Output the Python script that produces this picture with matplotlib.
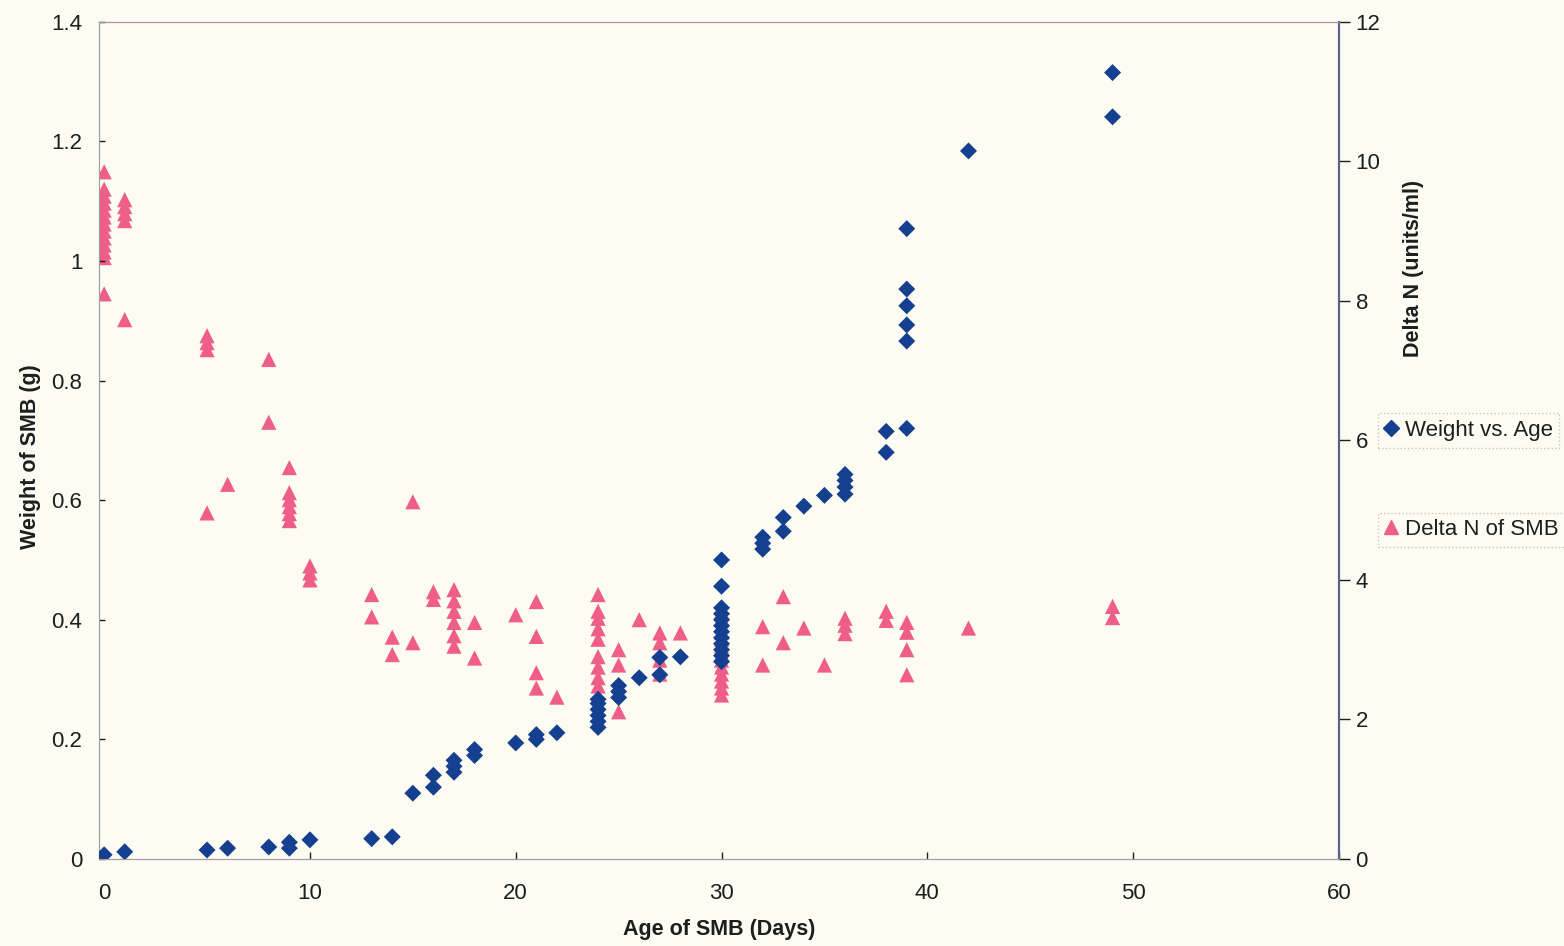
import matplotlib
matplotlib.use("Agg")
import matplotlib.pyplot as plt
from matplotlib.lines import Line2D

# ---------------- data ----------------
weight_age = [0, 1, 5, 6, 8, 9, 9, 10, 13, 14, 15, 16, 16, 17, 17, 17, 18, 18, 20,
              21, 21, 22, 24, 24, 24, 24, 24, 24, 25, 25, 25, 26, 27, 27, 28,
              30, 30, 30, 30, 30, 30, 30, 30, 30, 30, 30, 30,
              32, 32, 32, 33, 33, 34, 35, 36, 36, 36, 36, 38, 38,
              39, 39, 39, 39, 39, 39, 42, 49, 49]
weight_g = [0.007, 0.012, 0.015, 0.018, 0.02, 0.018, 0.028, 0.032, 0.034, 0.037, 0.11,
            0.12, 0.14, 0.145, 0.155, 0.165, 0.173, 0.183, 0.194,
            0.2, 0.208, 0.211, 0.22, 0.23, 0.24, 0.25, 0.26, 0.267, 0.27, 0.28, 0.29,
            0.303, 0.308, 0.337, 0.338,
            0.33, 0.34, 0.35, 0.36, 0.37, 0.38, 0.39, 0.40, 0.41, 0.42, 0.456, 0.50,
            0.518, 0.528, 0.538, 0.548, 0.571, 0.59, 0.608, 0.61, 0.622, 0.633, 0.643,
            0.68, 0.715, 0.72, 0.866, 0.893, 0.925, 0.953, 1.054, 1.184, 1.241, 1.315]

deltan_age = [0] * 13 + [1] * 5 + [5] * 4 + [6] + [8] * 2 + [9] * 6 + [10] * 3 + \
             [13] * 2 + [14] * 2 + [15] * 2 + [16] * 2 + [17] * 6 + [18] * 2 + [20] + \
             [21] * 4 + [22] + [24] * 9 + [25] * 3 + [26] + [27] * 4 + [28] + \
             [30] * 13 + [32] * 2 + [33] * 2 + [34] + [35] + [36] * 3 + [38] * 2 + \
             [39] * 4 + [42] + [49] * 2
deltan = [9.85, 9.6, 9.5, 9.4, 9.3, 9.2, 9.1, 9.0, 8.9, 8.8, 8.7, 8.62, 8.1,
          9.45, 9.35, 9.25, 9.15, 7.73,
          7.5, 7.4, 7.3, 4.96,
          5.37,
          7.16, 6.26,
          5.61, 5.25, 5.15, 5.05, 4.95, 4.85,
          4.2, 4.1, 4.0,
          3.79, 3.47,
          3.18, 2.93,
          5.12, 3.1,
          3.83, 3.72,
          3.86, 3.7, 3.55, 3.39, 3.2, 3.05,
          3.39, 2.88,
          3.5,
          3.69, 3.19, 2.67, 2.45,
          2.32,
          3.79, 3.55, 3.45, 3.3, 3.15, 2.9, 2.75, 2.6, 2.48,
          3.0, 2.78, 2.11,
          3.43,
          3.24, 3.1, 2.85, 2.65,
          3.24,
          3.55, 3.45, 3.35, 3.25, 3.15, 3.05, 2.95, 2.85, 2.75, 2.65, 2.55, 2.45, 2.35,
          3.33, 2.78,
          3.76, 3.1,
          3.31,
          2.78,
          3.45, 3.35, 3.23,
          3.55, 3.42,
          3.39, 3.25, 3.0, 2.64,
          3.31,
          3.62, 3.46]

x_ticks = [0, 10, 20, 30, 40, 50, 60]
left_ticks = [0, 0.2, 0.4, 0.6, 0.8, 1.0, 1.2, 1.4]
left_labels = ["0", "0.2", "0.4", "0.6", "0.8", "1", "1.2", "1.4"]
right_ticks = [0, 2, 4, 6, 8, 10, 12]

# ---------------- style ----------------
plt.rcParams['font.family'] = ['Liberation Sans', 'DejaVu Sans']
BG = '#FCFCF3'
BLUE = '#15408F'
PINK = '#EE5E86'
TXT = '#1E1E1E'

fig = plt.figure(figsize=(15.64, 9.46), dpi=100, facecolor=BG)
ax2 = fig.add_axes([0.0633, 0.092, 0.7928, 0.885])   # base axes: x axis + Delta N (right)
ax = ax2.twinx()                                      # weight (left), drawn on top
ax.yaxis.tick_left()
ax.yaxis.set_label_position('left')
ax2.yaxis.tick_right()
ax2.yaxis.set_label_position('right')
ax2.set_facecolor(BG)
ax.patch.set_visible(False)

ax2.scatter(deltan_age, deltan, marker='^', s=120, color=PINK, edgecolors='none', zorder=3)
ax.scatter(weight_age, weight_g, marker='D', s=75, color=BLUE, edgecolors='none', zorder=4)

ax2.set_xlim(-0.25, 60)
ax.set_ylim(0, 1.4)
ax2.set_ylim(0, 12)

ax2.set_xticks(x_ticks)
ax.set_yticks(left_ticks)
ax.set_yticklabels(left_labels)
ax2.set_yticks(right_ticks)

for a in (ax, ax2):
    a.tick_params(labelsize=16, colors=TXT, length=4, width=1)
ax.tick_params(axis='y', direction='in', pad=12)
ax2.tick_params(axis='y', direction='out', length=8, pad=4)
ax2.tick_params(axis='x', direction='in', length=5, pad=17)

for a in (ax, ax2):
    a.spines['left'].set_color('#9AA0A8')
    a.spines['bottom'].set_color('#A89AA0')
    a.spines['top'].set_color('#B09098')
    a.spines['right'].set_color('#5A6090')
    a.spines['right'].set_linewidth(1.5)

ax2.set_xlabel('Age of SMB (Days)', fontsize=15.5, fontweight='bold', color=TXT)
ax2.xaxis.set_label_coords(0.5, -0.072)
ax.set_ylabel('Weight of SMB (g)', fontsize=15.5, fontweight='bold', color=TXT)
ax.yaxis.set_label_coords(-0.047, 0.48)
ax2.set_ylabel('Delta N (units/ml)', fontsize=15.5, fontweight='bold', color=TXT)
ax2.yaxis.set_label_coords(1.052, 0.705)

h1 = Line2D([], [], marker='D', linestyle='none', color=BLUE, markersize=8)
h2 = Line2D([], [], marker='^', linestyle='none', color=PINK, markersize=10)
leg1 = fig.legend([h1], ['Weight vs. Age'], loc='center left',
                  bbox_to_anchor=(0.874, 0.545), fontsize=16, frameon=True,
                  handlelength=0.6, handletextpad=0.3, borderpad=0.3, fancybox=False)
leg2 = fig.legend([h2], ['Delta N of SMB'], loc='center left',
                  bbox_to_anchor=(0.874, 0.44), fontsize=16, frameon=True,
                  handlelength=0.6, handletextpad=0.3, borderpad=0.3, fancybox=False)
for lg in (leg1, leg2):
    lg.get_frame().set_edgecolor('#B8B8B0')
    lg.get_frame().set_facecolor(BG)
    lg.get_frame().set_linestyle(':')
    for t in lg.get_texts():
        t.set_color(TXT)

fig.savefig('out.png', dpi=100, facecolor=BG)
